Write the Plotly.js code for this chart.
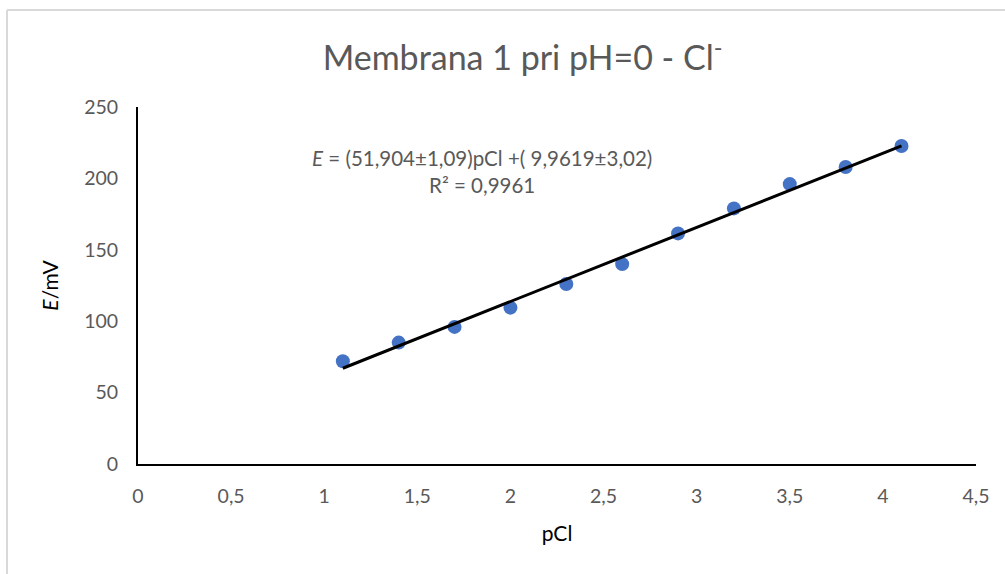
<!DOCTYPE html>
<html>
<head>
<meta charset="utf-8">
<script src="https://cdn.plot.ly/plotly-3.0.1.min.js"></script>
<style>html,body{margin:0;padding:0;background:#fff;}#chart{width:1005px;height:574px;}</style>
</head>
<body>
<div id="chart"></div>
<script>
const pCl = [1.1, 1.4, 1.7, 2.0, 2.3, 2.6, 2.9, 3.2, 3.5, 3.8, 4.1];
const E_mV = [72, 85, 96, 109.5, 126, 140, 161.5, 179, 196, 208, 222.7];
const fitSlope = 51.904;
const fitIntercept = 9.9619;
const xTickVals = [0, 0.5, 1, 1.5, 2, 2.5, 3, 3.5, 4, 4.5];
const xTickText = ["0", "0,5", "1", "1,5", "2", "2,5", "3", "3,5", "4", "4,5"];
const yTickVals = [0, 50, 100, 150, 200, 250];
const yTickText = ["0", "50", "100", "150", "200", "250"];

const xMin = Math.min(...pCl), xMax = Math.max(...pCl);
const fitX = [xMin, xMax];
const fitY = fitX.map(x => fitSlope * x + fitIntercept);

const font = "Lato, 'Open Sans', sans-serif";
const grey = "#595959";

const traces = [
  {x: pCl, y: E_mV, type: "scatter", mode: "markers",
   marker: {color: "#4472C4", size: 14}, showlegend: false, hoverinfo: "x+y"},
  {x: fitX, y: fitY, type: "scatter", mode: "lines",
   line: {color: "#000000", width: 3}, showlegend: false, hoverinfo: "skip"}
];

const layout = {
  width: 1005, height: 574,
  margin: {l: 138, r: 29, t: 107, b: 110},
  paper_bgcolor: "#ffffff", plot_bgcolor: "#ffffff",
  font: {family: font, color: grey, size: 19},
  title: {text: "Membrana 1 pri pH=0 - Cl<sup>-</sup>", font: {family: font, size: 34, color: grey},
          x: 0.52, xanchor: "center", y: 0.898, yanchor: "middle"},
  xaxis: {range: [0, 4.5], tickvals: xTickVals, ticktext: xTickText, showgrid: false, zeroline: false,
          showline: true, linecolor: "#000000", linewidth: 2, ticks: "", ticklabelstandoff: 14,
          tickfont: {family: font, size: 19.5, color: grey},
          title: {text: "pCl", font: {family: font, size: 21, color: "#000000"}, standoff: 20}},
  yaxis: {range: [0, 250], tickvals: yTickVals, ticktext: yTickText, showgrid: false, zeroline: false,
          showline: true, linecolor: "#000000", linewidth: 2, ticks: "", ticklabelstandoff: 14,
          tickfont: {family: font, size: 19.5, color: grey},
          title: {text: "<i>E</i>/mV", font: {family: font, size: 21, color: "#000000"}, standoff: 20}},
  annotations: [{
    x: 1.847, y: 204.5, xref: "x", yref: "y", showarrow: false,
    text: "<i>E</i> = (51,904±1,09)pCl +( 9,9619±3,02)<br>R² = 0,9961",
    font: {family: font, size: 20.5, color: grey}, align: "center"
  }],
  shapes: [
    {type: "line", xref: "paper", yref: "paper", x0: -0.1563, x1: 1.2, y0: 1.2717, y1: 1.2717,
     line: {color: "#d9d9d9", width: 2}},
    {type: "line", xref: "paper", yref: "paper", x0: -0.1563, x1: -0.1563, y0: -0.4, y1: 1.2717,
     line: {color: "#d9d9d9", width: 2}}
  ]
};

Plotly.newPlot("chart", traces, layout, {displayModeBar: false, staticPlot: true});
</script>
</body>
</html>
